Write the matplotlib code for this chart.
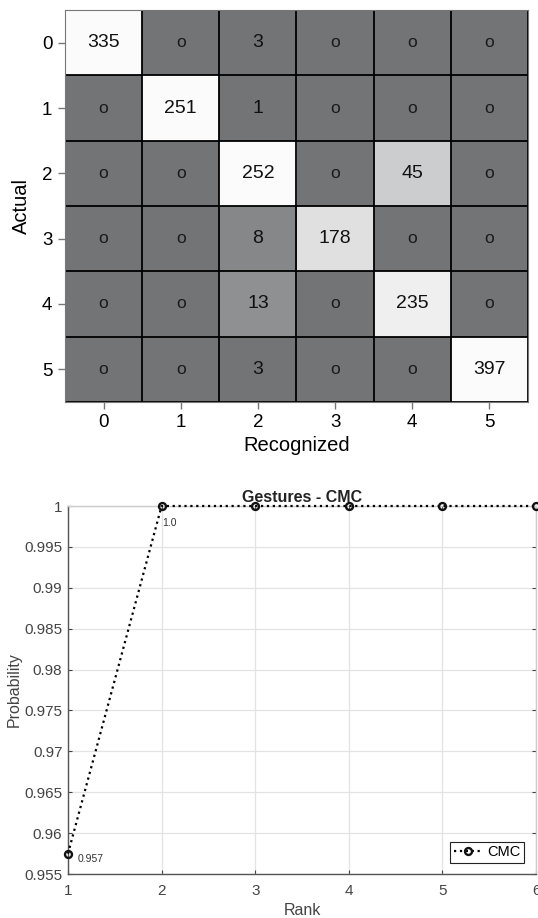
import numpy as np
import matplotlib
matplotlib.use("Agg")
import matplotlib.pyplot as plt
from matplotlib.colors import LinearSegmentedColormap, PowerNorm

# confusion matrix (rows = actual, cols = recognized)
classes = [0, 1, 2, 3, 4, 5]
conf = [
    [335, 0, 3, 0, 0, 0],
    [0, 251, 1, 0, 0, 0],
    [0, 0, 252, 0, 45, 0],
    [0, 0, 8, 178, 0, 0],
    [0, 0, 13, 0, 235, 0],
    [0, 0, 3, 0, 0, 397],
]

# CMC curve
ranks = [1, 2, 3, 4, 5, 6]
cmc = [0.9575, 1.0, 1.0, 1.0, 1.0, 1.0]
cmc_labels = ["0.957", "1.0"]

plt.rcParams['font.family'] = ['Liberation Sans', 'DejaVu Sans']

fig = plt.figure(figsize=(5.38, 9.18), dpi=100)

# --- confusion matrix ---
ax1 = fig.add_axes([0.1208, 0.5621, 0.8606, 0.4270])
cm = np.array(conf)
grays = LinearSegmentedColormap.from_list("grays", [
    (0.0, "#727476"), (0.12, "#737577"), (0.18, "#87898b"), (0.23, "#8f9193"),
    (0.42, "#cbcdce"), (0.84, "#e0e0e0"), (0.97, "#eeeeee"), (1.0, "#fbfbfb")])
ax1.imshow(cm, cmap=grays, norm=PowerNorm(0.5, vmin=0, vmax=250, clip=True),
           aspect="auto", interpolation="nearest")
for i in range(cm.shape[0]):
    for j in range(cm.shape[1]):
        v = cm[i, j]
        if v == 0:
            ax1.text(j, i, "o", ha="center", va="center", fontsize=12.5, color="#1a1a1a")
        else:
            ax1.text(j, i, str(v), ha="center", va="center", fontsize=14, color="#111111")
# cell borders
for k in np.arange(-0.5, len(classes), 1.0):
    ax1.axhline(k, color="black", lw=1.3)
    ax1.axvline(k, color="black", lw=1.3)
ax1.set_xticks(range(len(classes)))
ax1.set_yticks(range(len(classes)))
ax1.set_xticklabels(classes, fontsize=13.5)
ax1.set_yticklabels(classes, fontsize=13.5)
ax1.tick_params(length=5, width=1, color="#777777", pad=4)
for s in ax1.spines.values():
    s.set_color("#777777")
ax1.set_xlim(-0.5, 5.5)
ax1.set_ylim(5.5, -0.5)
ax1.set_xlabel("Recognized", fontsize=14.5, labelpad=3)
ax1.set_ylabel("Actual", fontsize=14.5, labelpad=8)

# --- CMC curve ---
ax2 = fig.add_axes([0.1264, 0.0479, 0.8699, 0.4009])
ax2.plot(ranks, cmc, linestyle=":", color="black", lw=1.6, marker="o",
         markersize=5, markerfacecolor="none", markeredgewidth=1.7,
         markeredgecolor="#111111", label="CMC", clip_on=False, zorder=5)
label_offsets = [(7, -4), (0.5, -12)]
for x, y, t, off in zip(ranks, cmc, cmc_labels, label_offsets):
    ax2.annotate(t, (x, y), xytext=off, textcoords="offset points",
                 fontsize=7.5, color="#333333", ha="left", va="center")
ax2.set_xlim(1, 6)
ax2.set_ylim(0.955, 1.0)
ax2.set_xticks(ranks)
yt = np.round(np.arange(0.955, 1.0001, 0.005), 3)
ax2.set_yticks(yt)
ax2.set_yticklabels([f"{v:g}" for v in yt])
ax2.grid(True, color="#e3e3e3", lw=0.9)
ax2.set_axisbelow(True)
ax2.tick_params(direction="in", length=3, width=0.8, color="#444444",
                labelsize=11, labelcolor="#444444", top=True, right=True, pad=4)
ax2.tick_params(axis="x", pad=7)
for side, s in ax2.spines.items():
    s.set_color("#555555" if side in ("left", "bottom") else "#cccccc")
    s.set_linewidth(1.0)
ax2.set_title("Gestures - CMC", fontsize=11.5, fontweight="bold", pad=3, color="#222222")
ax2.set_xlabel("Rank", fontsize=11.5, color="#444444", labelpad=4)
ax2.set_ylabel("Probability", fontsize=11.5, color="#444444", labelpad=2)
leg = ax2.legend(loc="lower right", fontsize=10.5, fancybox=False, framealpha=1,
                 edgecolor="#222222", handlelength=2.0, handletextpad=0.3,
                 borderpad=0.25, borderaxespad=0, bbox_to_anchor=(0.975, 0.03))
leg.get_frame().set_linewidth(0.8)

fig.savefig("out.png", dpi=100)
